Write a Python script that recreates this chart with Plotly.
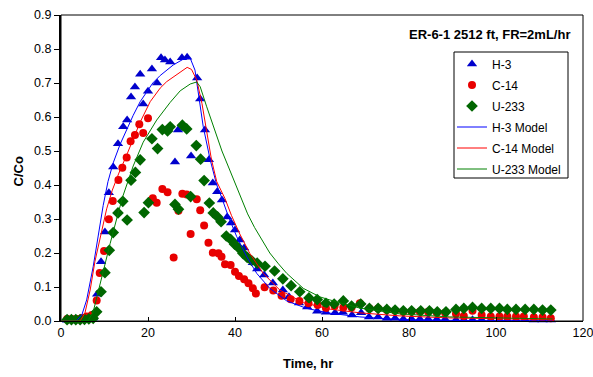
import plotly.graph_objects as go

# ---------------- data ----------------
h3_x = [1.4, 2.4, 3.3, 4.3, 5.3, 6.3, 7.4, 8.3, 9.2, 10.1, 11.0, 12.0, 13.1, 14.3, 15.2, 16.1,
        17.0, 18.2, 18.9, 20.0, 20.9, 22.1, 23.0, 23.9, 25.1, 26.2, 26.9, 27.8, 29.0, 29.9,
        31.3, 32.0, 33.1, 34.0, 34.9, 35.9, 37.0, 38.2, 39.1, 40.0, 41.1, 42.1, 43.0, 44.1,
        45.1, 46.7, 48.7, 51.0, 52.4, 54.7, 56.6, 58.9, 60.9, 63.0, 64.8, 66.9, 69.0, 70.8,
        72.9, 74.9, 76.8, 78.7, 80.6, 82.5, 84.4, 86.4, 88.3, 90.8, 92.6, 94.6, 96.7, 98.8,
        100.8, 102.6, 104.6, 106.7, 108.7, 110.7, 112.6]
h3_y = [0.002, 0.002, 0.002, 0.002, 0.003, 0.004, 0.009, 0.079, 0.174, 0.262, 0.377, 0.453,
        0.521, 0.571, 0.591, 0.659, 0.688, 0.726, 0.638, 0.676, 0.741, 0.700, 0.774, 0.768,
        0.762, 0.468, 0.562, 0.774, 0.776, 0.485, 0.715, 0.653, 0.562, 0.474, 0.406, 0.380,
        0.356, 0.306, 0.288, 0.268, 0.238, 0.215, 0.188, 0.171, 0.153, 0.135, 0.112, 0.091,
        0.071, 0.053, 0.041, 0.029, 0.026, 0.024, 0.026, 0.018, 0.024, 0.012, 0.012, 0.008,
        0.008, 0.006, 0.006, 0.006, 0.006, 0.005, 0.005, 0.004, 0.004, 0.004, 0.004, 0.004,
        0.004, 0.004, 0.004, 0.004, 0.003, 0.003, 0.003]

c14_x = [1.4, 2.5, 3.7, 4.8, 5.9, 7.1, 8.2, 8.9, 9.9, 11.0, 11.9, 13.2, 14.1, 15.1, 16.0, 17.0,
         18.0, 18.9, 20.0, 21.1, 22.0, 23.3, 24.5, 25.9, 27.0, 27.9, 28.9, 29.8, 31.2, 32.0,
         32.9, 33.9, 34.9, 36.2, 36.9, 37.7, 39.0, 40.0, 40.9, 42.1, 43.1, 44.1, 44.8, 46.8,
         48.8, 50.7, 52.8, 54.8, 56.9, 59.0, 60.9, 62.9, 64.9, 66.8, 68.7, 70.9, 72.9, 74.9,
         76.8, 78.7, 80.6, 82.5, 84.4, 86.4, 88.3, 90.8, 92.6, 94.6, 96.7, 98.8, 100.8, 102.6,
         104.6, 106.4, 108.7, 110.7, 112.6]
c14_y = [0.006, 0.006, 0.006, 0.009, 0.013, 0.018, 0.060, 0.141, 0.206, 0.299, 0.353, 0.415,
         0.451, 0.481, 0.529, 0.547, 0.579, 0.553, 0.596, 0.361, 0.348, 0.388, 0.379, 0.187,
         0.324, 0.374, 0.372, 0.256, 0.358, 0.326, 0.281, 0.230, 0.201, 0.199, 0.189, 0.167,
         0.165, 0.145, 0.132, 0.123, 0.111, 0.096, 0.081, 0.099, 0.090, 0.074, 0.064, 0.059,
         0.052, 0.047, 0.038, 0.044, 0.040, 0.040, 0.052, 0.037, 0.037, 0.032, 0.030, 0.027,
         0.027, 0.027, 0.027, 0.024, 0.024, 0.021, 0.015, 0.030, 0.018, 0.013, 0.013, 0.013,
         0.013, 0.013, 0.011, 0.011, 0.008]

u233_x = [1.4, 2.4, 3.4, 4.4, 5.4, 6.4, 7.4, 8.2, 9.2, 10.1, 11.1, 12.0, 13.1, 14.2, 15.2, 16.1,
          17.1, 18.2, 19.1, 20.1, 20.9, 22.2, 23.3, 24.5, 25.1, 26.2, 27.0, 27.9, 28.9, 29.8,
          31.1, 32.1, 32.9, 34.1, 35.0, 36.0, 36.8, 38.0, 39.0, 39.9, 40.9, 41.8, 42.8, 43.8,
          45.1, 46.9, 49.1, 51.0, 52.9, 54.9, 57.0, 58.9, 60.9, 62.8, 64.9, 66.8, 68.9, 70.9,
          72.9, 74.9, 76.8, 78.7, 80.6, 82.7, 84.7, 86.5, 88.5, 90.8, 92.6, 94.6, 96.7, 98.8,
          100.8, 102.6, 104.6, 106.7, 108.7, 110.7, 112.6]
u233_y = [0.004, 0.004, 0.004, 0.004, 0.005, 0.006, 0.008, 0.027, 0.086, 0.142, 0.208, 0.260,
          0.318, 0.352, 0.297, 0.414, 0.437, 0.474, 0.319, 0.348, 0.536, 0.507, 0.563, 0.559,
          0.571, 0.343, 0.329, 0.576, 0.565, 0.366, 0.516, 0.476, 0.413, 0.347, 0.318, 0.306,
          0.292, 0.250, 0.240, 0.226, 0.214, 0.199, 0.187, 0.178, 0.170, 0.161, 0.147, 0.124,
          0.104, 0.086, 0.068, 0.063, 0.052, 0.050, 0.059, 0.044, 0.050, 0.037, 0.037, 0.034,
          0.032, 0.030, 0.030, 0.030, 0.030, 0.027, 0.027, 0.034, 0.037, 0.040, 0.037, 0.037,
          0.037, 0.034, 0.034, 0.034, 0.034, 0.032, 0.032]

h3m_x = [0.0, 3.5, 4.8, 5.9, 7.4, 8.6, 9.7, 10.8, 12.0, 13.6, 15.1, 16.6, 18.2, 19.7, 21.1,
         22.8, 25.8, 28.1, 29.7, 30.8, 31.6, 32.7, 34.3, 35.8, 36.6, 38.5, 40.4, 42.7, 45.0,
         48.0, 51.9, 56.5, 61.8, 68.7, 75.6, 82.5, 95.0, 113.0]
h3m_y = [0.0, 0.0, 0.018, 0.062, 0.160, 0.258, 0.340, 0.410, 0.465, 0.520, 0.565, 0.605,
         0.645, 0.675, 0.700, 0.722, 0.753, 0.770, 0.773, 0.738, 0.671, 0.571, 0.474, 0.400,
         0.375, 0.307, 0.248, 0.189, 0.140, 0.096, 0.059, 0.037, 0.023, 0.012, 0.006, 0.003,
         0.001, 0.0]

c14m_x = [0.0, 4.4, 5.5, 6.7, 7.8, 9.4, 10.5, 11.8, 13.3, 15.0, 16.6, 18.2, 20.5, 22.8, 24.3,
          27.4, 29.0, 30.0, 31.2, 32.4, 33.5, 34.6, 35.8, 37.7, 39.2, 41.1, 43.4, 46.5, 50.3,
          55.7, 61.8, 68.7, 77.9, 89.4, 113.0]
c14m_y = [0.0, 0.0, 0.023, 0.091, 0.175, 0.270, 0.330, 0.385, 0.435, 0.485, 0.535, 0.585,
          0.645, 0.685, 0.704, 0.733, 0.746, 0.740, 0.709, 0.640, 0.552, 0.474, 0.410, 0.360,
          0.310, 0.256, 0.199, 0.140, 0.091, 0.054, 0.035, 0.024, 0.015, 0.009, 0.004]

u233m_x = [0.0, 6.2, 7.4, 9.0, 11.3, 13.2, 14.3, 16.6, 18.9, 22.0, 25.1, 27.4, 29.7, 31.2,
           32.0, 33.5, 35.2, 37.0, 38.6, 40.0, 41.4, 42.9, 44.5, 46.0, 48.0, 50.0, 51.9, 55.7,
           59.5, 61.8, 68.7, 77.9, 89.4, 113.0]
u233m_y = [0.0, 0.0, 0.027, 0.111, 0.228, 0.320, 0.370, 0.456, 0.526, 0.591, 0.643, 0.677,
           0.697, 0.703, 0.689, 0.630, 0.565, 0.500, 0.450, 0.405, 0.360, 0.315, 0.275, 0.243,
           0.200, 0.168, 0.140, 0.096, 0.071, 0.062, 0.038, 0.021, 0.012, 0.006]

x_ticks = [0, 20, 40, 60, 80, 100, 120]
y_ticks = [0.0, 0.1, 0.2, 0.3, 0.4, 0.5, 0.6, 0.7, 0.8, 0.9]

FONT = "Liberation Sans, Arial, sans-serif"

fig = go.Figure()
fig.add_trace(go.Scatter(x=h3_x, y=h3_y, mode="markers", name="H-3", cliponaxis=False,
                         legendgroup="a",
                         marker=dict(symbol="triangle-up", size=9, color="#0000CC")))
fig.add_trace(go.Scatter(x=c14_x, y=c14_y, mode="markers", name="C-14", cliponaxis=False,
                         legendgroup="b",
                         marker=dict(symbol="circle", size=8, color="#E80000")))
fig.add_trace(go.Scatter(x=u233_x, y=u233_y, mode="markers", name="U-233", cliponaxis=False,
                         legendgroup="c",
                         marker=dict(symbol="diamond", size=9, color="#006600")))
fig.add_trace(go.Scatter(x=h3m_x, y=h3m_y, mode="lines", name="H-3 Model", legendgroup="d",
                         line=dict(color="#0000FF", width=1)))
fig.add_trace(go.Scatter(x=c14m_x, y=c14m_y, mode="lines", name="C-14 Model", legendgroup="e",
                         line=dict(color="#FF0000", width=1)))
fig.add_trace(go.Scatter(x=u233m_x, y=u233m_y, mode="lines", name="U-233 Model",
                         legendgroup="f", line=dict(color="#008000", width=1)))


# pixel -> paper coords of plot area (61..583 x 15..321)
def px_x(p):
    return (p - 61) / 522.0


def px_y(p):
    return (321 - p) / 306.0


fig.update_layout(
    width=593, height=377,
    margin=dict(l=61, r=10, t=15, b=56, autoexpand=False),
    paper_bgcolor="white", plot_bgcolor="white",
    font=dict(family=FONT, size=13, color="black"),
    showlegend=True,
    legend=dict(x=px_x(452), y=px_y(49.5), xanchor="left", yanchor="top",
                bgcolor="rgba(0,0,0,0)", borderwidth=0,
                font=dict(size=12), itemwidth=30, tracegroupgap=2),
    xaxis=dict(range=[0, 120], tickvals=x_ticks, ticks="inside", ticklen=4,
               tickcolor="black", showline=True, linecolor="black", linewidth=1,
               showgrid=False, zeroline=False, tickfont=dict(size=12.5),
               ticklabeloverflow="allow", automargin=False),
    yaxis=dict(range=[0, 0.9], tickvals=y_ticks, tickformat=".1f", ticks="outside",
               ticklen=5, tickcolor="black", showline=True, linecolor="black",
               linewidth=2, showgrid=False, zeroline=False, tickfont=dict(size=12.5),
               automargin=False),
    shapes=[
        dict(type="rect", xref="paper", yref="paper", x0=0, y0=0, x1=1, y1=1,
             line=dict(color="black", width=1), layer="below"),
        dict(type="rect", xref="paper", yref="paper", x0=px_x(454), y0=px_y(178),
             x1=px_x(568), y1=px_y(52), line=dict(color="black", width=1),
             fillcolor="white", layer="below"),
    ],
    annotations=[
        dict(text="<b>ER-6-1 2512 ft, FR=2mL/hr</b>", xref="paper", yref="paper",
             x=px_x(572), y=px_y(34), xanchor="right", yanchor="middle", showarrow=False,
             font=dict(size=13)),
        dict(text="<b>Time, hr</b>", xref="paper", yref="paper", x=px_x(308), y=px_y(363),
             xanchor="center", yanchor="middle", showarrow=False, font=dict(size=13)),
        dict(text="<b>C/Co</b>", xref="paper", yref="paper", x=px_x(17.5), y=px_y(172),
             xanchor="center", yanchor="middle", showarrow=False, textangle=-90,
             font=dict(size=13)),
    ],
)

fig.write_html("out.html", config={"displayModeBar": False},
               post_script="document.body.style.margin='0';")
